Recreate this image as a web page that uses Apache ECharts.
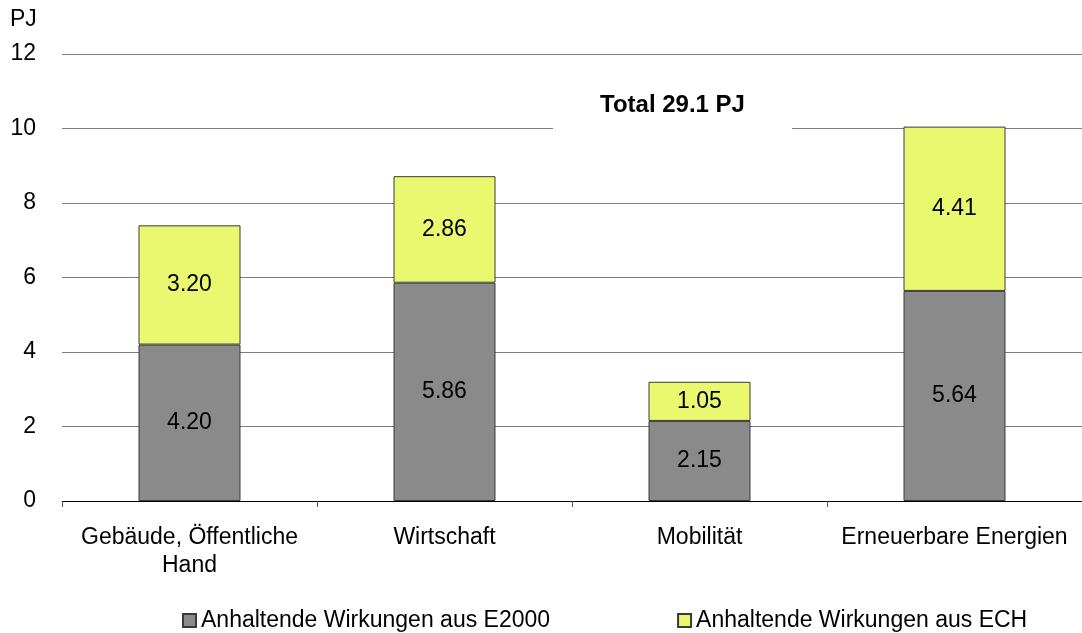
<!DOCTYPE html>
<html>
<head>
<meta charset="utf-8">
<script src="https://cdn.jsdelivr.net/npm/echarts@6/dist/echarts.min.js"></script>
<style>
  html, body { margin: 0; padding: 0; background: #fff; }
  #chart { width: 1082px; height: 633px; }
</style>
</head>
<body>
<div id="chart"></div>
<script>
var categories = ['Gebäude, Öffentliche\nHand', 'Wirtschaft', 'Mobilität', 'Erneuerbare Energien'];
var e2000 = [4.20, 5.86, 2.15, 5.64];
var ech = [3.20, 2.86, 1.05, 4.41];
var seriesNames = ['Anhaltende Wirkungen aus E2000', 'Anhaltende Wirkungen aus ECH'];
var totalText = 'Total 29.1 PJ';

var font = 'Liberation Sans, Arial, Helvetica, sans-serif';
var fs = 23;
var myChart = echarts.init(document.getElementById('chart'));

// labels inside the bars
var inside = {
  show: true,
  position: 'inside',
  color: '#000',
  fontSize: fs,
  fontFamily: font,
  formatter: function (p) { return p.value.toFixed(2); }
};

var option = {
  animation: false,
  textStyle: { fontFamily: font },
  title: [
    { text: 'PJ', left: 10, top: 8, padding: 0, textStyle: { fontSize: fs, fontWeight: 'normal', color: '#000', fontFamily: font } },
    {
      text: totalText, left: 553, top: 81,
      backgroundColor: '#fff',
      padding: [12, 47, 30, 47],
      textStyle: { fontSize: 24, fontWeight: 'bold', color: '#000', fontFamily: font }
    }
  ],
  grid: { left: 62, right: 0, top: 54, bottom: 132 },
  legend: {
    left: 182,
    top: 609,
    padding: 0,
    itemWidth: 13,
    itemHeight: 13,
    itemGap: 127,
    icon: 'rect',
    textStyle: { fontSize: fs, color: '#000', fontFamily: font },
    data: seriesNames
  },
  xAxis: {
    type: 'category',
    data: categories,
    axisLine: { lineStyle: { color: '#000', width: 1 } },
    axisTick: { show: true, length: 6, lineStyle: { color: '#555' } },
    axisLabel: { interval: 0, fontSize: fs, color: '#000', margin: 23, lineHeight: 28, fontFamily: font }
  },
  yAxis: {
    type: 'value',
    min: 0,
    max: 12,
    interval: 2,
    axisLine: { show: false },
    axisTick: { show: false },
    axisLabel: { fontSize: fs, color: '#000', margin: 26, fontFamily: font },
    splitLine: { lineStyle: { color: '#7f7f7f', width: 1 } }
  },
  series: [
    {
      name: seriesNames[0],
      type: 'bar',
      stack: 'total',
      barWidth: 102,
      data: e2000,
      itemStyle: { color: '#8a8a8a', borderColor: '#3a3a3a', borderWidth: 1 },
      label: inside
    },
    {
      name: seriesNames[1],
      type: 'bar',
      stack: 'total',
      barWidth: 102,
      data: ech,
      itemStyle: { color: '#e9f86f', borderColor: '#3a3a3a', borderWidth: 1 },
      label: inside
    }
  ]
};

myChart.setOption(option);
</script>
</body>
</html>
